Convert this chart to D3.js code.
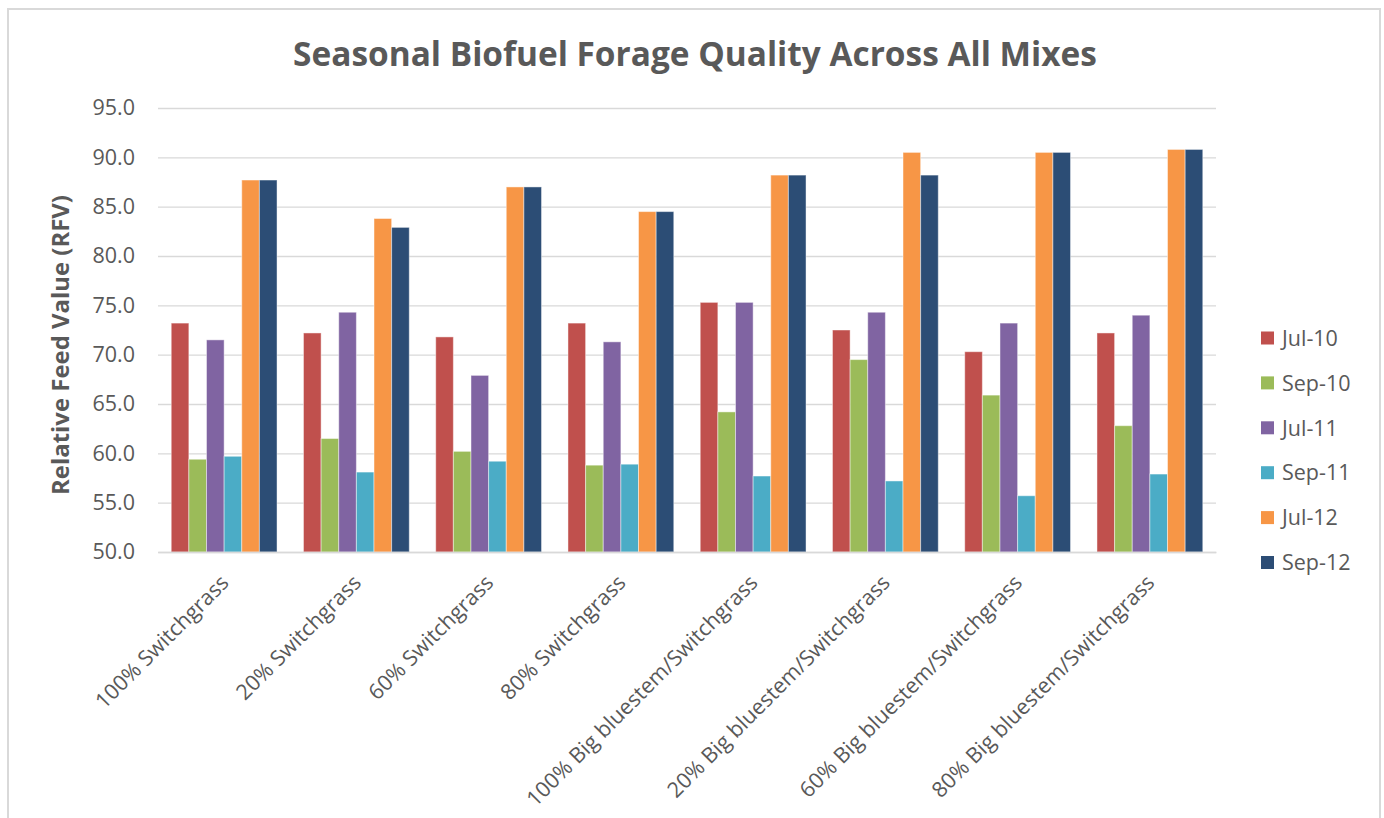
<!DOCTYPE html>
<html>
<head>
<meta charset="utf-8">
<script src="https://cdn.jsdelivr.net/npm/d3@7"></script>
<style>
  html, body { margin: 0; padding: 0; background: #ffffff; }
  svg text { font-family: "Open Sans", "DejaVu Sans", sans-serif; }
</style>
</head>
<body>
<svg id="chart" width="1384" height="818"></svg>
<script>
const categories = [
  "100% Switchgrass", "20% Switchgrass", "60% Switchgrass", "80% Switchgrass",
  "100% Big bluestem/Switchgrass", "20% Big bluestem/Switchgrass",
  "60% Big bluestem/Switchgrass", "80% Big bluestem/Switchgrass"
];
const seriesNames = ["Jul-10", "Sep-10", "Jul-11", "Sep-11", "Jul-12", "Sep-12"];
const jul10 = [73.2, 72.2, 71.8, 73.2, 75.3, 72.5, 70.3, 72.2];
const sep10 = [59.4, 61.5, 60.2, 58.8, 64.2, 69.5, 65.9, 62.8];
const jul11 = [71.5, 74.3, 67.9, 71.3, 75.3, 74.3, 73.2, 74.0];
const sep11 = [59.7, 58.1, 59.2, 58.9, 57.7, 57.2, 55.7, 57.9];
const jul12 = [87.7, 83.8, 87.0, 84.5, 88.2, 90.5, 90.5, 90.8];
const sep12 = [87.7, 82.9, 87.0, 84.5, 88.2, 88.2, 90.5, 90.8];
const yTicks = [50, 55, 60, 65, 70, 75, 80, 85, 90, 95];
const colors = ["#C0504D", "#9BBB59", "#8064A2", "#4BACC6", "#F79646", "#2C4D75"];

const seriesValues = [jul10, sep10, jul11, sep11, jul12, sep12];
const rows = categories.map((c, i) => ({
  cat: c,
  vals: seriesNames.map((s, j) => ({ key: s, value: seriesValues[j][i] }))
}));

const svg = d3.select("#chart");
const textColor = "#595959";

// outer chart border
svg.append("rect")
  .attr("x", 8).attr("y", 9).attr("width", 1372).attr("height", 830)
  .attr("fill", "#ffffff").attr("stroke", "#d9d9d9").attr("stroke-width", 2);

const plot = { left: 158, right: 1216, top: 108, bottom: 552 };

const x0 = d3.scaleBand().domain(categories)
  .range([plot.left, plot.right]).paddingInner(0.2).paddingOuter(0.1);
const x1 = d3.scaleBand().domain(seriesNames).range([0, x0.bandwidth()]).padding(0);
const y = d3.scaleLinear().domain([50, 95]).range([plot.bottom, plot.top]);
const color = d3.scaleOrdinal().domain(seriesNames).range(colors);

// gridlines
const yAxis = d3.axisLeft(y).tickValues(yTicks).tickSize(-(plot.right - plot.left))
  .tickFormat(d3.format(".1f")).tickPadding(23);
const gy = svg.append("g").attr("transform", `translate(${plot.left},0)`).call(yAxis);
gy.select(".domain").remove();
gy.selectAll(".tick line").attr("stroke", "#d9d9d9").attr("stroke-width", 1.3);
gy.selectAll(".tick text").attr("fill", textColor).style("font-size", "21.5px")
  .style("font-family", "'Open Sans', sans-serif");

// bars
const groups = svg.append("g").selectAll("g").data(rows).join("g")
  .attr("transform", d => `translate(${x0(d.cat)},0)`);
groups.selectAll("rect").data(d => d.vals).join("rect")
  .attr("x", d => x1(d.key))
  .attr("y", d => y(d.value))
  .attr("width", x1.bandwidth())
  .attr("height", d => y(50) - y(d.value))
  .attr("fill", d => color(d.key))
  .attr("stroke", "rgba(255,255,255,0.45)")
  .attr("stroke-width", 1);

// x axis
const xAxis = d3.axisBottom(x0).tickSize(0).tickPadding(0);
const gx = svg.append("g").attr("transform", `translate(0,${plot.bottom})`).call(xAxis);
gx.select(".domain").attr("stroke", "#d9d9d9").attr("stroke-width", 1.5);
gx.selectAll(".tick text")
  .attr("fill", textColor)
  .style("font-size", "21.5px")
  .style("font-family", "'Open Sans', sans-serif")
  .attr("text-anchor", "end")
  .attr("dy", "0")
  .attr("transform", "translate(6,32) rotate(-45)");

// title
function fitText(sel, targetWidth, startSize) {
  sel.style("font-size", startSize + "px");
  const w = sel.node().getComputedTextLength();
  sel.style("font-size", (startSize * targetWidth / w).toFixed(2) + "px");
}
const title = svg.append("text")
  .attr("x", 695).attr("y", 66)
  .attr("text-anchor", "middle")
  .attr("fill", textColor)
  .style("font-weight", "bold")
  .text("Seasonal Biofuel Forage Quality Across All Mixes");
fitText(title, 804, 28);

// y title
const yTitle = svg.append("text")
  .attr("transform", "translate(69,345) rotate(-90)")
  .attr("text-anchor", "middle")
  .attr("fill", textColor)
  .style("font-weight", "bold")
  .text("Relative Feed Value (RFV)");
fitText(yTitle, 300, 19);

// legend
const legend = svg.append("g").attr("transform", "translate(1261,338)");
const li = legend.selectAll("g").data(seriesNames).join("g")
  .attr("transform", (d, i) => `translate(0,${i * 44.9})`);
li.append("rect").attr("x", 0).attr("y", -6.5).attr("width", 13).attr("height", 13)
  .attr("fill", d => color(d));
li.append("text").attr("x", 21).attr("y", 0).attr("dy", "0.36em")
  .attr("fill", textColor).style("font-size", "21.5px").text(d => d);
</script>
</body>
</html>
